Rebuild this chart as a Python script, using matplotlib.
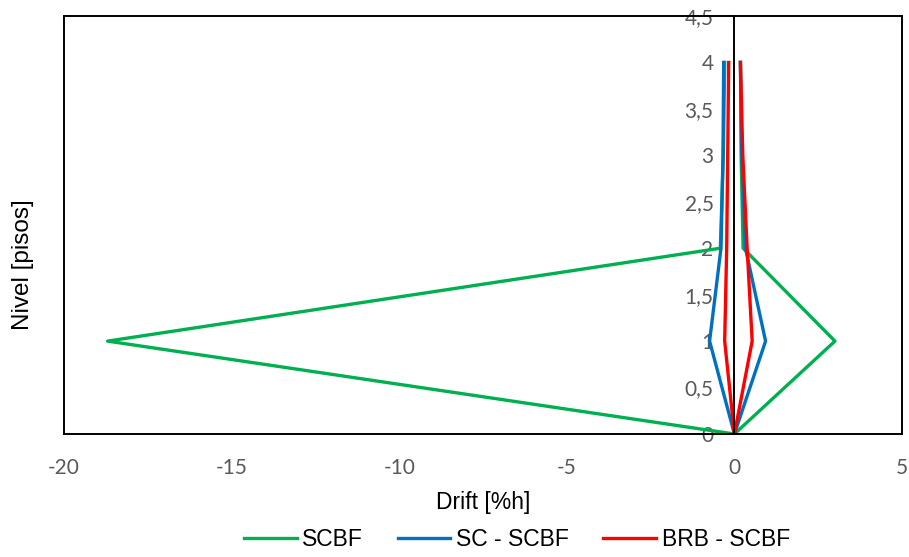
import numpy as np
import matplotlib.pyplot as plt
from matplotlib.ticker import FuncFormatter

plt.rcParams['font.family'] = ['Liberation Sans', 'DejaVu Sans']
plt.rcParams['axes.unicode_minus'] = False

# Drift envelope per storey: left side from top down to base, then right side back up
niveles = [4, 3, 2, 1, 0, 1, 2, 3, 4]
drift_scbf = [-0.29, -0.33, -0.42, -18.7, 0, 3.0, 0.26, 0.2, 0.18]
drift_sc_scbf = [-0.32, -0.34, -0.40, -0.74, 0, 0.93, 0.33, 0.22, 0.18]
drift_brb_scbf = [-0.17, -0.20, -0.23, -0.29, 0, 0.53, 0.38, 0.25, 0.18]

fig = plt.figure(figsize=(9.09, 5.57), dpi=100)
ax = fig.add_axes([64 / 909, 1 - 434 / 557, (902 - 64) / 909, (434 - 16) / 557])

ax.plot(drift_scbf, niveles, color='#00B050', linewidth=2.4, label='SCBF')
ax.plot(drift_sc_scbf, niveles, color='#0070C0', linewidth=2.4, label='SC - SCBF')
ax.plot(drift_brb_scbf, niveles, color='#FF0000', linewidth=2.4, label='BRB - SCBF')

ax.set_xlim(-20, 5)
ax.set_ylim(0, 4.5)
ax.set_xticks(np.arange(-20, 6, 5))
ax.set_yticks(np.arange(0, 4.51, 0.5))

fmt = FuncFormatter(lambda v, p: f'{v:g}'.replace('.', ','))
ax.xaxis.set_major_formatter(fmt)
ax.yaxis.set_major_formatter(fmt)

for s in ax.spines.values():
    s.set_color('black')
    s.set_linewidth(1.4)
ax.spines['left'].set_position(('data', 0))
ax.axvline(-20, color='black', linewidth=1.4, clip_on=False)

ax.tick_params(axis='both', length=0, labelsize=15, labelcolor='#595959')
for lab in ax.get_xticklabels() + ax.get_yticklabels():
    lab.set_family(['Lato', 'DejaVu Sans'])
ax.tick_params(axis='x', pad=17)
ax.tick_params(axis='y', pad=15)

ax.set_xlabel('Drift [%h]', fontsize=16.5, labelpad=10)
fig.text(23 / 909, 1 - 265 / 557, 'Nivel [pisos]', rotation=90,
         ha='center', va='center', fontsize=17.5)

fig.legend(loc='center', bbox_to_anchor=(517 / 909, 1 - 540 / 557), ncol=3,
           frameon=False, fontsize=16.5, handlelength=2.3, columnspacing=1.5,
           handletextpad=0.25)

fig.savefig('out.png', dpi=100)
